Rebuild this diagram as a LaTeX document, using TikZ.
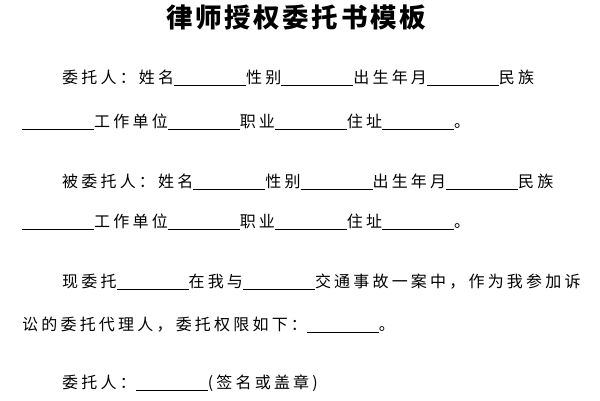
\documentclass[tikz,border=0pt]{standalone}
\usepackage{fontspec}
\newfontfamily\cjk[LetterSpace=20]{Noto Sans CJK SC}
\newfontfamily\cjkt[LetterSpace=10]{Noto Sans CJK SC}
\newcommand{\blk}{\rule[-3pt]{72pt}{1.1pt}}
\tikzset{ln/.style={anchor=west,inner sep=0pt,font=\cjk\fontsize{16}{18}\selectfont}}
\begin{document}
\begin{tikzpicture}[x=1pt,y=-1pt]
\useasboundingbox (0,0) rectangle (600,400);
\node[inner sep=0pt,font=\cjkt\bfseries\fontsize{26.5}{28}\selectfont] (t) at (296,18) {律师授权委托书模板};
\node[ln] (l1) at (62,78) {委托人：姓名\blk 性别\blk 出生年月\blk 民族};
\node[ln] (l2) at (22,122) {\blk 工作单位\blk 职业\blk 住址\blk 。};
\node[ln] (l3) at (62,182) {被委托人：姓名\blk 性别\blk 出生年月\blk 民族};
\node[ln] (l4) at (22,222) {\blk 工作单位\blk 职业\blk 住址\blk 。};
\node[ln] (l5) at (62,282) {现委托\blk 在我与\blk 交通事故一案中，作为我参加诉};
\node[ln] (l6) at (22,325) {讼的委托代理人，委托权限如下：\blk 。};
\node[ln] (l7) at (62,383) {委托人：\blk(签名或盖章)};
\end{tikzpicture}
\end{document}
